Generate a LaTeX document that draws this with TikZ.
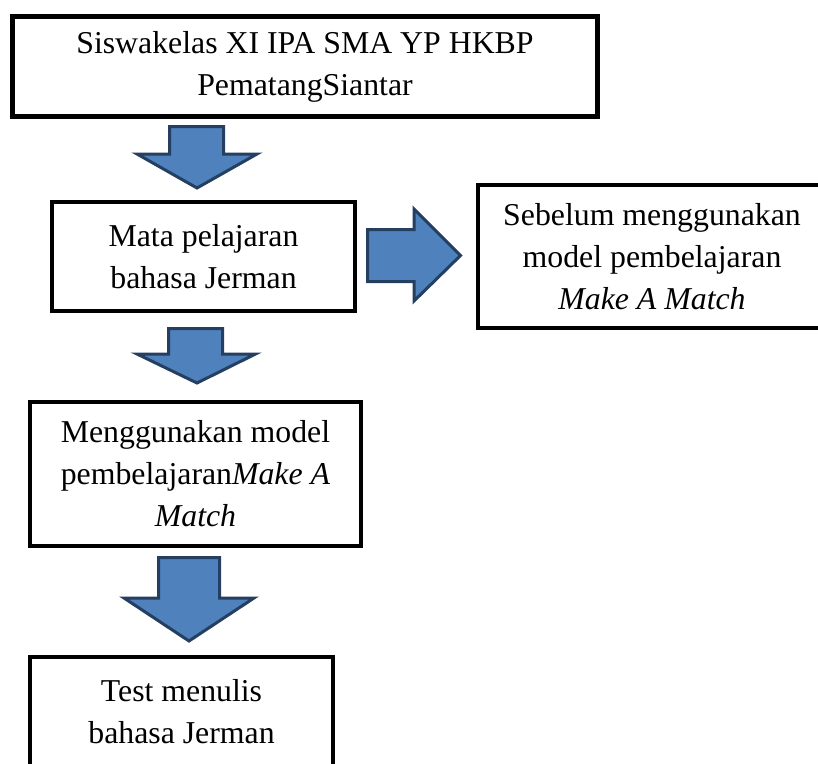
\documentclass[tikz,border=0pt]{standalone}
\usepackage{fontspec}
\setmainfont{Liberation Serif}
\definecolor{biru}{HTML}{4F81BD}
\definecolor{birutua}{HTML}{243F60}

\begin{document}
\begin{tikzpicture}[x=1pt, y=-1pt,
          kotak/.style={draw=black, line width=4.5pt, align=center, inner sep=0pt,
                    font=\fontsize{31.8}{42}\selectfont},
          panah/.style={fill=biru, draw=birutua, line width=3pt, line join=miter}]
          \useasboundingbox (0,0) rectangle (818,763);
          \clip (0,0) rectangle (818,763);

          \node[kotak, line width=5pt, minimum width=585pt, minimum height=100pt] (siswa) at (305,66.5)
          {Siswakelas XI IPA SMA YP HKBP\\PematangSiantar};
          \node[kotak, minimum width=303pt, minimum height=109pt] (mapel) at (203.5,256.5)
          {Mata pelajaran\\bahasa Jerman};
          \node[kotak, minimum width=348pt, minimum height=143pt] (sebelum) at (652,256.5)
          {Sebelum menggunakan\\model pembelajaran\\\textit{Make A Match}};
          \node[kotak, minimum width=331pt, minimum height=144pt] (model) at (195.5,474)
          {Menggunakan model\\pembelajaran\textit{Make A}\\\textit{Match}};
          \node[kotak, minimum width=303pt, minimum height=109pt] (test) at (181.5,711.5)
          {Test menulis\\bahasa Jerman};

          % panah blok
          \draw[panah] (169.5,126.5) -- (223.5,126.5) -- (223.5,154) -- (257,154)
          -- (197,188) -- (137,154) -- (169.5,154) -- cycle;
          \draw[panah] (367.5,229.5) -- (414,229.5) -- (414,209) -- (460.5,255.5)
          -- (414,301) -- (414,281.5) -- (367.5,281.5) -- cycle;
          \draw[panah] (168.5,328.5) -- (222.5,328.5) -- (222.5,354) -- (255.5,354)
          -- (197,383) -- (137,354) -- (168.5,354) -- cycle;
          \draw[panah] (158.5,557.5) -- (219.5,557.5) -- (219.5,598) -- (254,598)
          -- (189,641) -- (124,598) -- (158.5,598) -- cycle;

\end{tikzpicture}
\end{document}
